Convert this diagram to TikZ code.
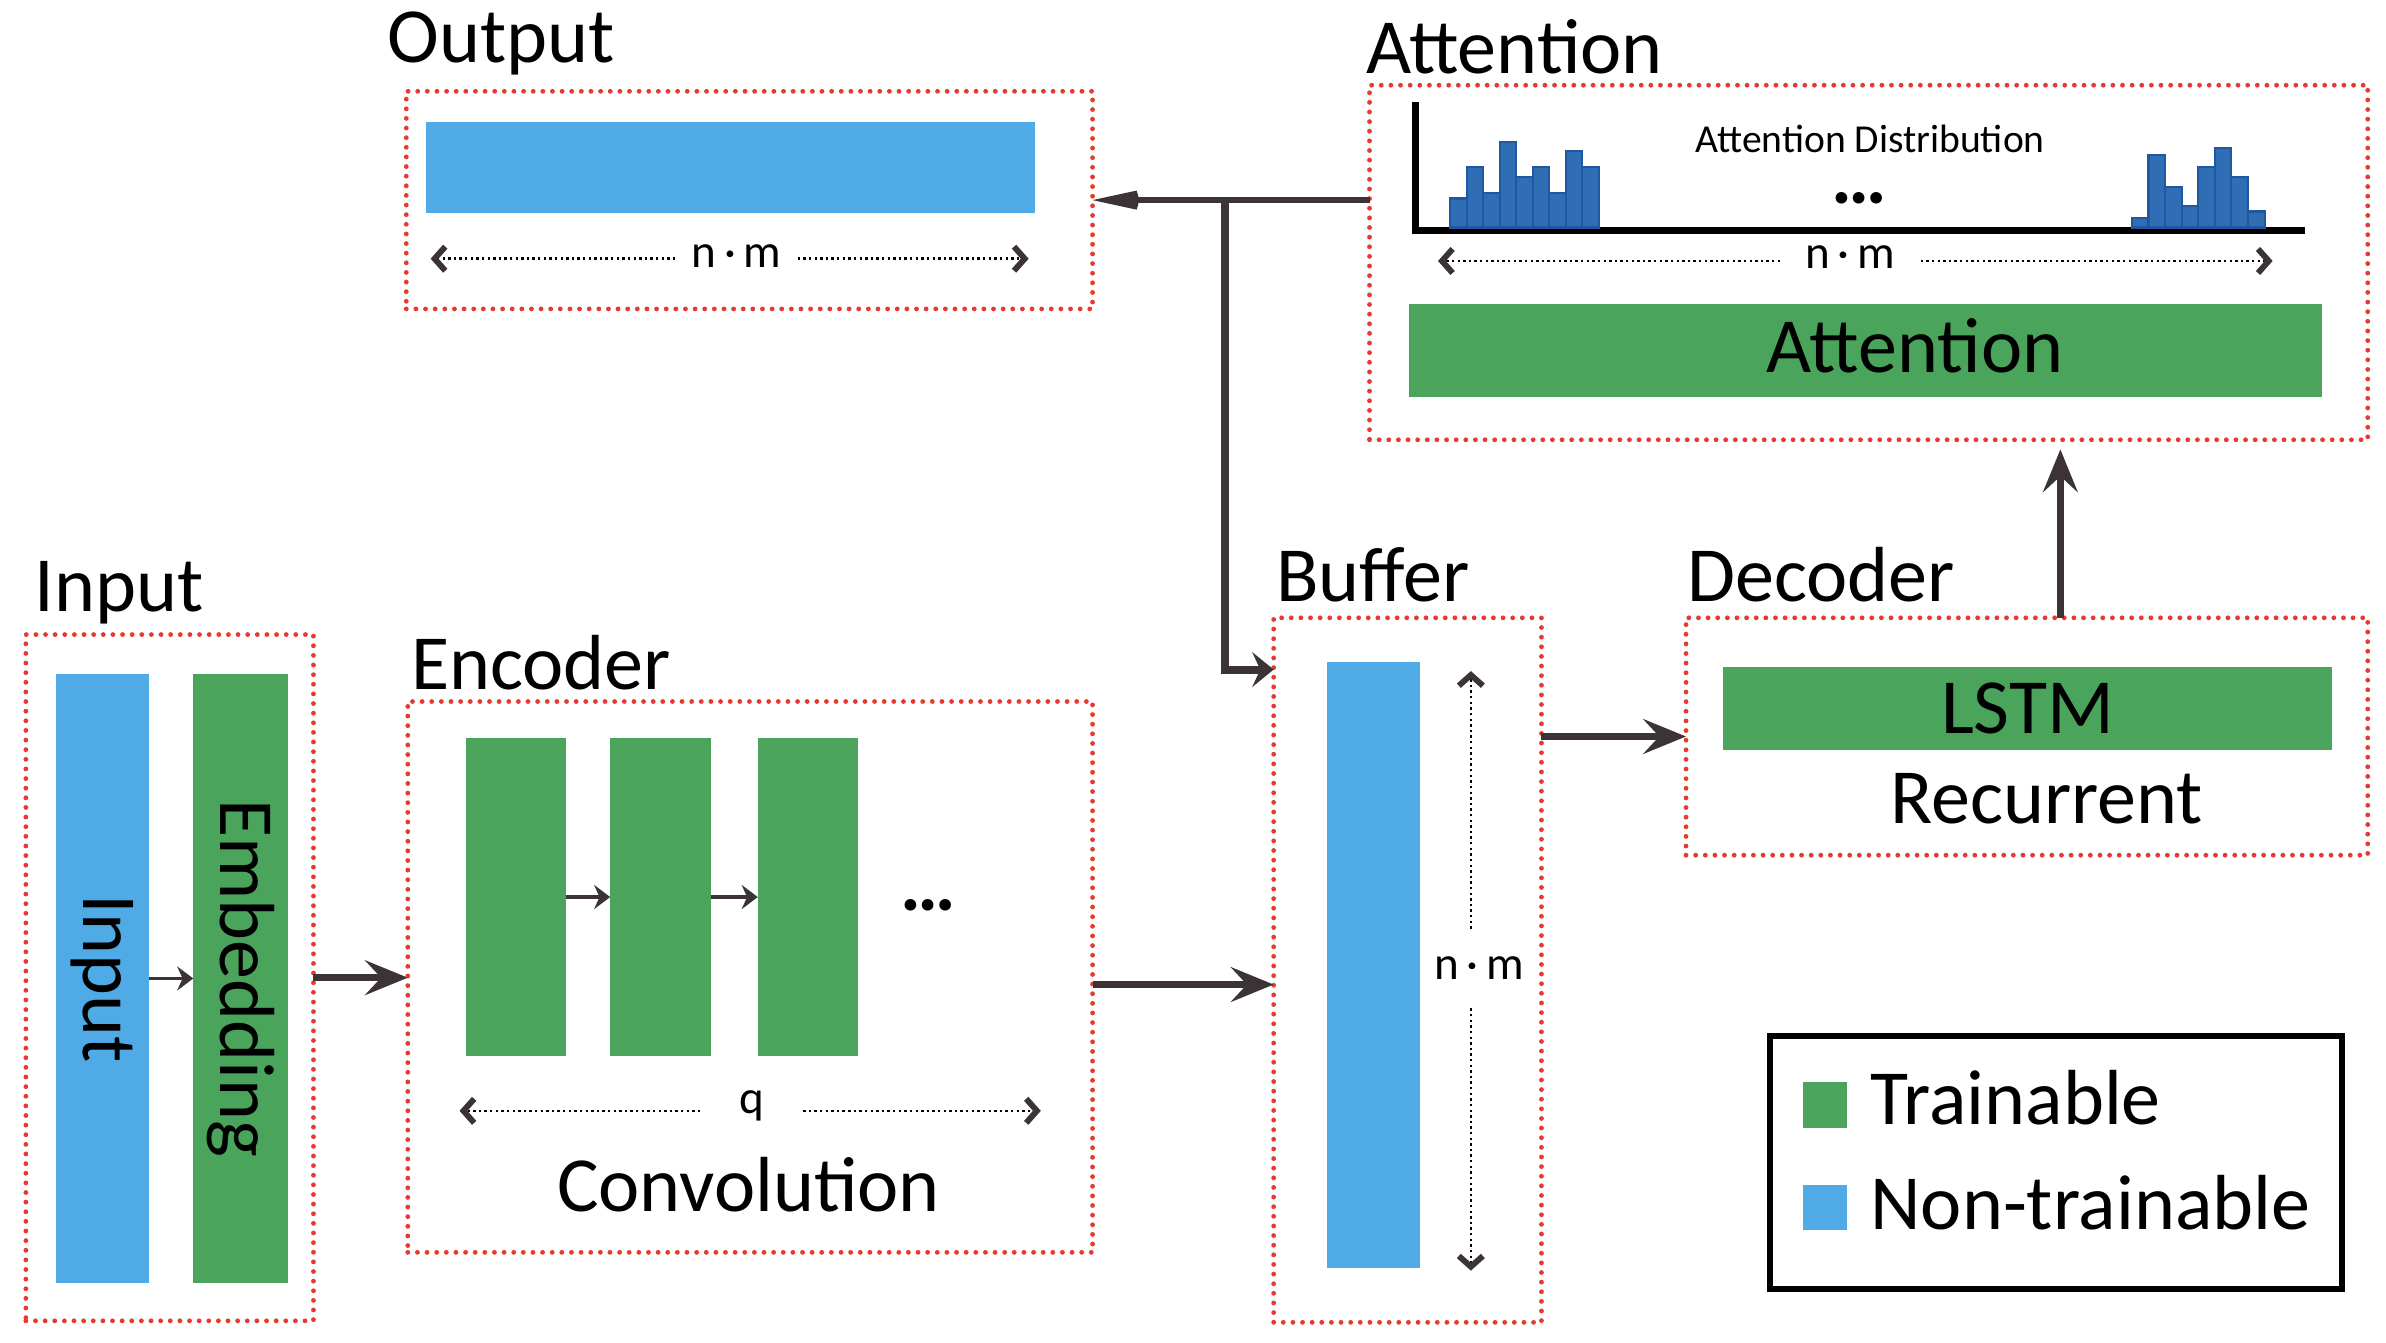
\documentclass[tikz,border=0pt]{standalone}
\usepackage{fontspec}
\setmainfont{Carlito}
\usetikzlibrary{arrows.meta,positioning}
\definecolor{traingreen}{HTML}{4AA45C}
\definecolor{fixblue}{HTML}{4FAAE6}
\definecolor{boxred}{HTML}{E8392E}
\definecolor{arrowgray}{HTML}{3C3434}
\definecolor{histblue}{HTML}{2F6EB5}
\definecolor{histedge}{HTML}{2356A0}
\newcommand\titlesize{\fontsize{14.6}{17}\selectfont}
\newcommand\dimsize{\fontsize{8.8}{10}\selectfont}
\newcommand\distsize{\fontsize{7.4}{9}\selectfont}

\begin{document}
\begin{tikzpicture}[x=0.1mm, y=-0.1mm,
    module/.style={
        draw=boxred,
        line width=0.9pt,
        dash pattern=on 0pt off 1.8pt,
        line cap=round,
        inner sep=0pt,
        outer sep=0pt
        },
    trainable/.style={fill=traingreen, inner sep=0pt, outer sep=0pt},
    fixed/.style={fill=fixblue, inner sep=0pt, outer sep=0pt},
    title/.style={anchor=base west, inner sep=0pt, font=\titlesize},
    bigtext/.style={anchor=base, inner sep=0pt, font=\titlesize},
    dots/.style={inner sep=0pt, font=\titlesize\bfseries},
    flow/.style={
        draw=arrowgray,
        line width=1.2pt,
        -{Stealth[length=8pt, width=6.5pt, inset=3pt]}
        },
    link/.style={
        draw=arrowgray,
        line width=0.7pt,
        -{Stealth[length=3pt, width=4.5pt, inset=1pt]}
        },
    dimline/.style={
        draw=black,
        line width=0.45pt,
        dash pattern=on 0.45pt off 0.6pt,
        -{Straight Barb[length=2pt, width=4.5pt, line width=1.1pt, color=arrowgray]}
        },
    dimlabel/.style={font=\dimsize, inner ysep=0pt, inner xsep=1mm},
    histbar/.style={fill=histblue, draw=histedge, line width=0.4pt},
  ]
  \useasboundingbox (0,0) rectangle (1568,882);

  % Output
  \node[title] (outtitle) at (254,41) {Output};
  \node[module, minimum width=45.1mm, minimum height=14.3mm] (outbox) at (492.5,131.5) {};
  \node[fixed, minimum width=40mm, minimum height=6mm] (outbar) at (480,110) {};
  \node[dimlabel] (outdim) at (484,168) {n\,·\,m};
  \coordinate (outdimL) at (283,170);
  \coordinate (outdimR) at (676,170);
  \draw[dimline] (outdimL -| outdim.west) -- (outdimL);
  \draw[dimline] (outdimR -| outdim.east) -- (outdimR);

  % Attention
  \node[title] (atttitle) at (897,48) {Attention};
  \node[module, minimum width=65.6mm, minimum height=23.3mm] (attbox) at (1228,172.5) {};
  \draw[line width=1.3pt] (930,67) |- (1515,151.5);
  \foreach \h [count=\i from 0] in {130.4,109.6,126.7,93.2,116.2,109.6,126.7,99.1,109.6}
    \draw[histbar] (953+10.84*\i,149.5) rectangle ++(10.84,\h-149.5);
  \foreach \h [count=\i from 0] in {143.5,102,122.7,135.2,109.6,97,116.2,139}
    \draw[histbar] (1401+10.9*\i,149.5) rectangle ++(10.9,\h-149.5);
  \node[inner sep=0pt, font=\distsize] (distlabel) at (1229,91) {Attention Distribution};
  \node[dots] (attdots) at (1222,130) {…};
  \node[dimlabel, inner xsep=1.6mm] (attdim) at (1216,169) {n\,·\,m};
  \coordinate (attdimL) at (945,171.5);
  \coordinate (attdimR) at (1493.5,171.5);
  \draw[dimline] (attdimL -| attdim.west) -- (attdimL);
  \draw[dimline] (attdimR -| attdim.east) -- (attdimR);
  \node[trainable, minimum width=60mm, minimum height=6.1mm] (attbar) at (1226,230.5) {};
  \node[bigtext] (atttext) at (1258.5,245) {Attention};

  % Input
  \node[title] (intitle) at (22,402) {Input};
  \node[module, minimum width=18.9mm, minimum height=45.1mm] (inbox) at (111.5,642.5) {};
  \node[fixed, rotate=-90, minimum width=40mm, minimum height=6.1mm, font=\titlesize] (inpbar) at (67.5,643) {Input};
  \node[trainable, rotate=-90, minimum width=40mm, minimum height=6.2mm, font=\titlesize] (embbar) at (158,643) {Embedding};
  \draw[link] (inpbar) -- (embbar);

  % Encoder
  \node[title] (enctitle) at (269.5,453) {Encoder};
  \node[module, minimum width=45mm, minimum height=36.2mm] (encbox) at (493,642) {};
  \foreach \x [count=\i] in {339,434,531}
    \node[trainable, minimum width=6.6mm, minimum height=20.9mm] (conv\i) at (\x,589.5) {};
  \draw[link] (conv1) -- (conv2);
  \draw[link] (conv2) -- (conv3);
  \node[dots] (convdots) at (610,595) {…};
  \node[dimlabel, inner xsep=2.5mm] (encdim) at (494,727) {q};
  \coordinate (encdimL) at (302,730);
  \coordinate (encdimR) at (684,730);
  \draw[dimline] (encdimL -| encdim.west) -- (encdimL);
  \draw[dimline] (encdimR -| encdim.east) -- (encdimR);
  \node[bigtext] (convtext) at (492,796) {Convolution};
  \draw[flow] (inbox.east) -- (inbox.east -| encbox.west);

  % Buffer
  \node[title] (buftitle) at (838,395) {Buffer};
  \node[module, minimum width=17.6mm, minimum height=46.3mm] (bufbox) at (925,637.5) {};
  \node[fixed, minimum width=6.1mm, minimum height=39.8mm] (bufbar) at (902.5,634) {};
  \node[dimlabel, inner ysep=1.8mm] (bufdim) at (972,636.5) {n\,·\,m};
  \coordinate (bufdimT) at (966.6,441);
  \coordinate (bufdimB) at (966.6,835);
  \draw[dimline] (bufdimT |- bufdim.north) -- (bufdimT);
  \draw[dimline] (bufdimB |- bufdim.south) -- (bufdimB);
  \coordinate (encout) at ([yshift=-0.5mm]encbox.east);
  \draw[flow] (encout) -- (encout -| bufbox.west);

  % Decoder
  \node[title] (dectitle) at (1108,395) {Decoder};
  \node[module, minimum width=44.8mm, minimum height=15.6mm] (decbox) at (1332,484) {};
  \node[trainable, minimum width=40mm, minimum height=5.45mm, font=\titlesize] (lstm) at (1332.4,465.5) {LSTM};
  \node[bigtext] (rectext) at (1345,541) {Recurrent};
  \draw[flow] (decbox.west -| bufbox.east) -- (decbox.west);
  \coordinate (decup) at ([xshift=2.2mm]decbox.north);
  \draw[flow, shorten >=1.8pt] (decup) -- (decup |- attbox.south);

  % Attention back to output and buffer
  \coordinate (attout) at (attbox.west |- outbox.east);
  \coordinate (split) at (805,131.5);
  \coordinate (bufin) at ([yshift=-3.4mm]bufbox.north west);
  \draw[flow, -{Stealth[length=15pt, width=6.5pt, inset=8pt]}] (attout) -- (outbox.east);
  \draw[flow, line width=1.5pt, -{Stealth[length=4pt, width=6.5pt, inset=1.5pt]}] (split) |- (bufin);

  % Legend
  \node[draw, line width=1.1pt, inner sep=0pt, minimum width=37.6mm, minimum height=16.6mm] (legend) at (1351,764) {};
  \node[trainable, minimum width=2.9mm, minimum height=3mm] (keytrain) at (1199.5,726) {};
  \node[fixed, minimum width=2.9mm, minimum height=2.9mm] (keyfix) at (1199.5,793.5) {};
  \node[title] (keytraintext) at (1228.5,739) {Trainable};
  \node[title] (keyfixtext) at (1228.5,808) {Non-trainable};
\end{tikzpicture}
\end{document}
